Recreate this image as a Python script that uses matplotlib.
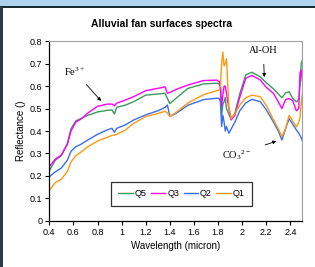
import matplotlib
matplotlib.use("Agg")
import matplotlib.pyplot as plt
from matplotlib.patches import Rectangle

wavelength = [0.40, 0.45, 0.50, 0.55, 0.58, 0.62, 0.66, 0.72, 0.80, 0.88, 0.92, 0.94, 0.96,
              1.03, 1.10, 1.20, 1.30, 1.36, 1.38, 1.40, 1.45, 1.55, 1.68, 1.79, 1.81, 1.82,
              1.83, 1.84, 1.85, 1.86, 1.87, 1.89, 1.91, 1.94, 1.98, 2.03, 2.08, 2.15, 2.20,
              2.26, 2.30, 2.33, 2.36, 2.39, 2.42, 2.45, 2.47, 2.48, 2.49, 2.50]

q5 = [0.222, 0.27, 0.29, 0.345, 0.41, 0.445, 0.455, 0.47, 0.485, 0.492, 0.494, 0.476, 0.506,
      0.515, 0.531, 0.56, 0.565, 0.568, 0.545, 0.522, 0.545, 0.59, 0.61, 0.613, 0.61, 0.59,
      0.47, 0.52, 0.53, 0.55, 0.50, 0.475, 0.45, 0.48, 0.565, 0.65, 0.662, 0.642, 0.615,
      0.588, 0.565, 0.548, 0.57, 0.575, 0.545, 0.53, 0.54, 0.60, 0.70, 0.717]

q3 = [0.24, 0.275, 0.293, 0.34, 0.40, 0.44, 0.452, 0.48, 0.51, 0.52, 0.52, 0.512, 0.524,
      0.538, 0.553, 0.58, 0.59, 0.597, 0.568, 0.572, 0.585, 0.605, 0.625, 0.627, 0.62, 0.60,
      0.51, 0.56, 0.60, 0.60, 0.568, 0.50, 0.45, 0.47, 0.55, 0.635, 0.648, 0.628, 0.595,
      0.568, 0.53, 0.50, 0.54, 0.545, 0.535, 0.49, 0.50, 0.66, 0.672, 0.62]

q2 = [0.196, 0.218, 0.235, 0.27, 0.31, 0.33, 0.34, 0.36, 0.385, 0.405, 0.412, 0.394, 0.412,
      0.427, 0.449, 0.472, 0.49, 0.505, 0.516, 0.465, 0.478, 0.515, 0.54, 0.546, 0.545, 0.53,
      0.42, 0.47, 0.44, 0.40, 0.42, 0.39, 0.41, 0.44, 0.49, 0.525, 0.541, 0.531, 0.495,
      0.44, 0.40, 0.36, 0.41, 0.455, 0.43, 0.405, 0.39, 0.38, 0.37, 0.355]

q1 = [0.135, 0.17, 0.185, 0.22, 0.262, 0.29, 0.305, 0.33, 0.355, 0.372, 0.38, 0.382, 0.385,
      0.404, 0.434, 0.464, 0.478, 0.488, 0.48, 0.465, 0.482, 0.525, 0.562, 0.58, 0.583, 0.60,
      0.70, 0.752, 0.69, 0.70, 0.722, 0.51, 0.455, 0.478, 0.515, 0.548, 0.56, 0.553, 0.515,
      0.45, 0.41, 0.375, 0.41, 0.47, 0.445, 0.418, 0.44, 0.46, 0.52, 0.565]

series = [("Q5", q5, "#3a9a5c"), ("Q3", q3, "#ff00ff"), ("Q2", q2, "#3a6cf0"), ("Q1", q1, "#ff9a10")]
xticks = [0.4, 0.6, 0.8, 1.0, 1.2, 1.4, 1.6, 1.8, 2.0, 2.2, 2.4]
xticklabels = ["0.4", "0.6", "0.8", "1", "1.2", "1.4", "1.6", "1.8", "2", "2.2", "2.4"]
yticks = [0, 0.1, 0.2, 0.3, 0.4, 0.5, 0.6, 0.7, 0.8]
yticklabels = ["0", "0.1", "0.2", "0.3", "0.4", "0.5", "0.6", "0.7", "0.8"]

plt.rcParams['font.family'] = ['Liberation Sans', 'DejaVu Sans']
plt.rcParams['mathtext.fontset'] = 'custom'
plt.rcParams['mathtext.rm'] = 'Liberation Serif'
plt.rcParams['mathtext.it'] = 'Liberation Serif:italic'
plt.rcParams['mathtext.bf'] = 'Liberation Serif:bold'

fig = plt.figure(figsize=(3.15, 2.67), dpi=100)
fig.patch.set_facecolor('white')
# decorative frame pieces
fig.add_artist(Rectangle((0, 1 - 6 / 267), 1, 6 / 267, transform=fig.transFigure,
                         facecolor='#acd4f0', edgecolor='none'))
fig.add_artist(Rectangle((0, 1 - 7.5 / 267), 1, 1.5 / 267, transform=fig.transFigure,
                         facecolor='#1e2a33', edgecolor='none'))
fig.add_artist(Rectangle((0, 0), 2.5 / 315, 1 - 7 / 267, transform=fig.transFigure,
                         facecolor='#2b3a45', edgecolor='none'))

ax = fig.add_axes([0.1565, 0.1734, 0.8035, 0.6719])
for name, vals, col in series:
    ax.plot(wavelength, vals, color=col, lw=1.0, label=name)

ax.set_xlim(0.4, 2.5)
ax.set_ylim(0, 0.8)
ax.set_xticks(xticks)
ax.set_xticklabels(xticklabels)
ax.set_yticks(yticks)
ax.set_yticklabels(yticklabels)
ax.tick_params(labelsize=6.5, length=3, width=0.8, direction='out', pad=2, colors='black')
ax.spines['top'].set_color('#a0a0a0')
ax.spines['right'].set_color('#a0a0a0')
for s in ['left', 'bottom']:
    ax.spines[s].set_color('black')
    ax.spines[s].set_linewidth(0.9)

fig.text(162 / 315, 1 - 24 / 267, "Alluvial fan surfaces spectra", fontsize=7.5,
         fontweight='bold', ha='center', va='center')
ax.set_xlabel("Wavelength (micron)", fontsize=7, labelpad=3)
ax.set_ylabel("Reflectance ()", fontsize=7, labelpad=3)

leg = ax.legend(loc='center', bbox_to_anchor=(0.522, 0.149), ncol=4, fontsize=6.5,
                frameon=True, fancybox=False, handlelength=1.6, handletextpad=0.2,
                columnspacing=0.5, borderpad=0.8, edgecolor='black')
leg.get_frame().set_linewidth(0.9)

serif = ['Liberation Serif', 'DejaVu Serif']
ax.annotate("Fe$^{3+}$", xy=(0.83, 0.534), xytext=(0.61, 0.665), fontsize=7.5,
            family=serif, ha='center', va='center',
            arrowprops=dict(arrowstyle='-|>', color='black', lw=0.6, mutation_scale=5,
                            shrinkA=4, shrinkB=0))
ax.annotate("Al-OH", xy=(2.184, 0.640), xytext=(2.175, 0.761), fontsize=7.5,
            family=serif, ha='center', va='center',
            arrowprops=dict(arrowstyle='-|>', color='black', lw=0.6, mutation_scale=5,
                            shrinkA=5, shrinkB=0))
ax.annotate("CO$_3$$^{2-}$", xy=(2.284, 0.355), xytext=(1.95, 0.293), fontsize=7.5,
            family=serif, ha='center', va='center',
            arrowprops=dict(arrowstyle='-|>', color='black', lw=0.6, mutation_scale=5,
                            shrinkA=9, shrinkB=0))

fig.savefig("out.png", dpi=100, facecolor='white')
